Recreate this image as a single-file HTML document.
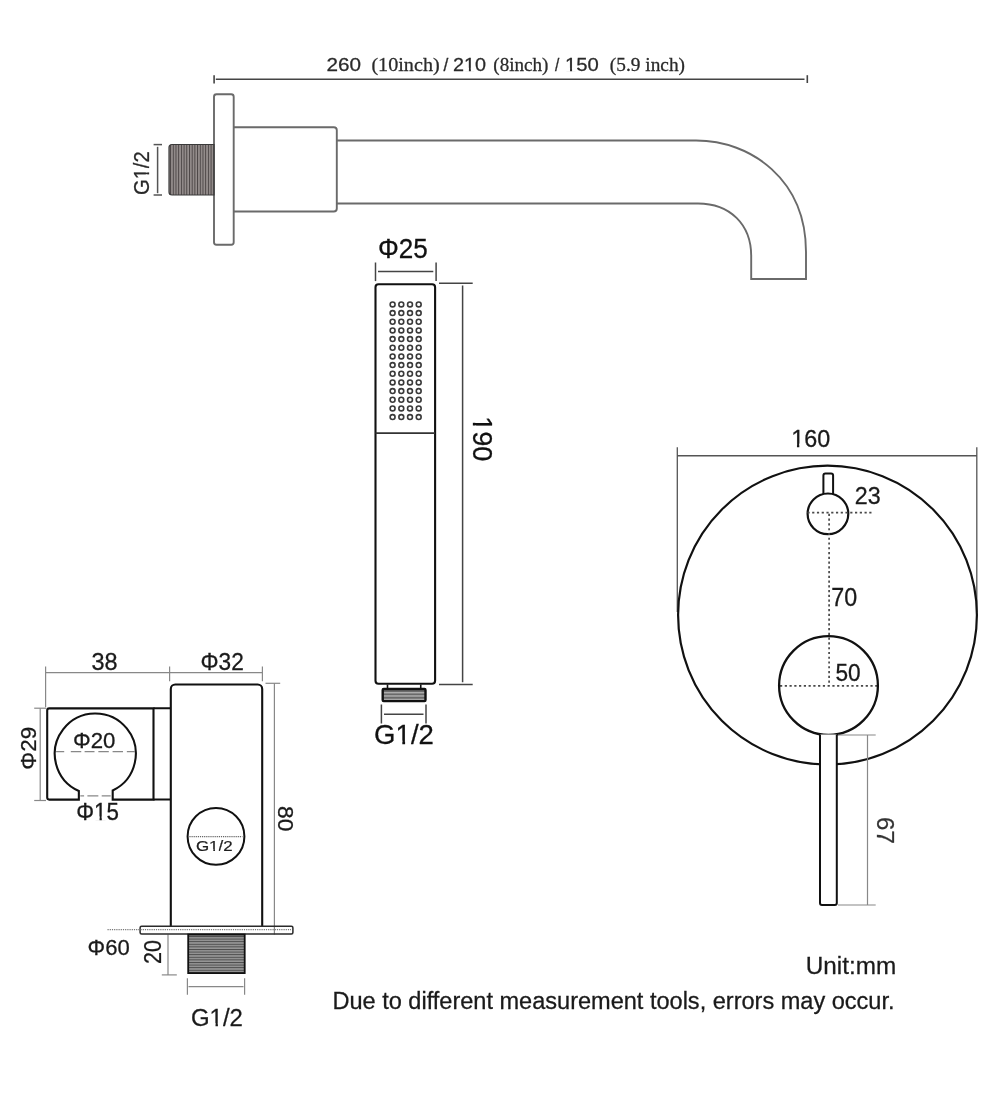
<!DOCTYPE html>
<html><head><meta charset="utf-8">
<style>
html,body{margin:0;padding:0;background:#fff;}
body{width:1000px;height:1112px;overflow:hidden;}
svg{display:block;will-change:transform;}
text{font-family:"Liberation Sans",sans-serif;}
</style></head>
<body>
<svg width="1000" height="1112" viewBox="0 0 1000 1112">
<defs>
<pattern id="vthr" x="0" y="0" width="2.7" height="10" patternUnits="userSpaceOnUse">
<rect width="2.7" height="10" fill="#7d7675"/><rect x="0" width="0.9" height="10" fill="#4a4444"/><rect x="1.5" width="0.7" height="10" fill="#b2abab"/>
</pattern>
<pattern id="hthr" x="0" y="0" width="10" height="2.6" patternUnits="userSpaceOnUse">
<rect width="10" height="2.6" fill="#808080"/><rect width="10" height="0.9" fill="#4a4a4a"/><rect y="1.5" width="10" height="0.6" fill="#b5b5b5"/>
</pattern>
<pattern id="hthr2" x="0" y="0" width="10" height="3.4" patternUnits="userSpaceOnUse">
<rect width="10" height="3.4" fill="#6a6a6a"/><rect y="2" width="10" height="0.9" fill="#d8d8d8"/>
</pattern>
</defs>

<!-- TOP DIMENSION -->
<g fill="none" stroke="#444" stroke-width="1.6">
<line x1="215.8" y1="79.3" x2="804.5" y2="79.3"/>
<line x1="214.1" y1="75.2" x2="214.1" y2="83.4"/>
<line x1="807.3" y1="75.2" x2="807.3" y2="83"/>
</g>

<!-- SPOUT -->
<g fill="none" stroke="#6a6a6a" stroke-width="1.9">
<rect x="214" y="94.2" width="19.7" height="150.6" rx="2.5"/>
<path d="M233.7,127.3 H333.8 a3,3 0 0 1 3,3 V208.5 a3,3 0 0 1 -3,3 H233.7"/>
<path d="M336.8,140.5 H696 C751,140.5 806,179.6 806,252 V279 H751.2 V256 C751.2,224.5 729.9,203.5 698,203.5 H336.8"/>
</g>
<path d="M214,144.5 H172 a3,3 0 0 0 -3,3 V192 a3,3 0 0 0 3,3 H214 Z" fill="url(#vthr)" stroke="#3a3a3a" stroke-width="1.2"/>
<g fill="none" stroke="#555" stroke-width="1.5">
<line x1="157.6" y1="146.8" x2="157.6" y2="193.2"/>
<line x1="153.6" y1="144.6" x2="162" y2="144.6"/>
<line x1="153.6" y1="195" x2="162" y2="195"/>
</g>

<!-- HAND SHOWER -->
<rect x="375.5" y="284.25" width="59.6" height="399.45" rx="3" fill="none" stroke="#111" stroke-width="2.1"/>
<line x1="375.5" y1="433.2" x2="435.1" y2="433.2" stroke="#333" stroke-width="1.7"/>
<g fill="none" stroke="#3a3a3a" stroke-width="1.6"><circle cx="392.6" cy="304.40" r="2.45"/><circle cx="401.3" cy="304.40" r="2.45"/><circle cx="410.0" cy="304.40" r="2.45"/><circle cx="418.7" cy="304.40" r="2.45"/><circle cx="392.6" cy="313.07" r="2.45"/><circle cx="401.3" cy="313.07" r="2.45"/><circle cx="410.0" cy="313.07" r="2.45"/><circle cx="418.7" cy="313.07" r="2.45"/><circle cx="392.6" cy="321.74" r="2.45"/><circle cx="401.3" cy="321.74" r="2.45"/><circle cx="410.0" cy="321.74" r="2.45"/><circle cx="418.7" cy="321.74" r="2.45"/><circle cx="392.6" cy="330.41" r="2.45"/><circle cx="401.3" cy="330.41" r="2.45"/><circle cx="410.0" cy="330.41" r="2.45"/><circle cx="418.7" cy="330.41" r="2.45"/><circle cx="392.6" cy="339.08" r="2.45"/><circle cx="401.3" cy="339.08" r="2.45"/><circle cx="410.0" cy="339.08" r="2.45"/><circle cx="418.7" cy="339.08" r="2.45"/><circle cx="392.6" cy="347.75" r="2.45"/><circle cx="401.3" cy="347.75" r="2.45"/><circle cx="410.0" cy="347.75" r="2.45"/><circle cx="418.7" cy="347.75" r="2.45"/><circle cx="392.6" cy="356.42" r="2.45"/><circle cx="401.3" cy="356.42" r="2.45"/><circle cx="410.0" cy="356.42" r="2.45"/><circle cx="418.7" cy="356.42" r="2.45"/><circle cx="392.6" cy="365.09" r="2.45"/><circle cx="401.3" cy="365.09" r="2.45"/><circle cx="410.0" cy="365.09" r="2.45"/><circle cx="418.7" cy="365.09" r="2.45"/><circle cx="392.6" cy="373.76" r="2.45"/><circle cx="401.3" cy="373.76" r="2.45"/><circle cx="410.0" cy="373.76" r="2.45"/><circle cx="418.7" cy="373.76" r="2.45"/><circle cx="392.6" cy="382.43" r="2.45"/><circle cx="401.3" cy="382.43" r="2.45"/><circle cx="410.0" cy="382.43" r="2.45"/><circle cx="418.7" cy="382.43" r="2.45"/><circle cx="392.6" cy="391.10" r="2.45"/><circle cx="401.3" cy="391.10" r="2.45"/><circle cx="410.0" cy="391.10" r="2.45"/><circle cx="418.7" cy="391.10" r="2.45"/><circle cx="392.6" cy="399.77" r="2.45"/><circle cx="401.3" cy="399.77" r="2.45"/><circle cx="410.0" cy="399.77" r="2.45"/><circle cx="418.7" cy="399.77" r="2.45"/><circle cx="392.6" cy="408.44" r="2.45"/><circle cx="401.3" cy="408.44" r="2.45"/><circle cx="410.0" cy="408.44" r="2.45"/><circle cx="418.7" cy="408.44" r="2.45"/><circle cx="392.6" cy="417.11" r="2.45"/><circle cx="401.3" cy="417.11" r="2.45"/><circle cx="410.0" cy="417.11" r="2.45"/><circle cx="418.7" cy="417.11" r="2.45"/></g>
<line x1="387.5" y1="684.5" x2="387.5" y2="688.5" stroke="#111" stroke-width="1.6"/>
<line x1="420.75" y1="684.5" x2="420.75" y2="688.5" stroke="#111" stroke-width="1.6"/>
<rect x="382.7" y="689" width="42.8" height="12.1" rx="1" fill="url(#hthr2)" stroke="#111" stroke-width="2.4"/>
<g fill="none" stroke="#444" stroke-width="1.5">
<line x1="375.5" y1="262.5" x2="375.5" y2="281.1"/>
<line x1="436.1" y1="262.5" x2="436.1" y2="281.1"/>
<line x1="378" y1="271.6" x2="433.3" y2="271.6"/>
<line x1="439" y1="283.3" x2="472.7" y2="283.3"/>
<line x1="439" y1="684.5" x2="472.7" y2="684.5"/>
<line x1="462.6" y1="285.5" x2="462.6" y2="682.2"/>
<line x1="381.4" y1="704.5" x2="381.4" y2="723.5"/>
<line x1="426" y1="704.5" x2="426" y2="723.5"/>
<line x1="384" y1="714.2" x2="423.5" y2="714.2"/>
</g>

<!-- DIVERTER -->
<g fill="none" stroke="#555" stroke-width="1.3">
<line x1="677" y1="455.75" x2="977" y2="455.75"/>
<line x1="677.3" y1="447.2" x2="677.3" y2="612"/>
<line x1="976.8" y1="447.2" x2="976.8" y2="612"/>
</g>
<circle cx="827.5" cy="615.1" r="149.4" fill="none" stroke="#111" stroke-width="2.2"/>
<path d="M823.4,495 V475.6 a2,2 0 0 1 2,-2 H831.1 a2,2 0 0 1 2,2 V495" fill="#fff" stroke="#111" stroke-width="2"/>
<circle cx="827.95" cy="513.85" r="20.35" fill="#fff" stroke="#111" stroke-width="2.2"/>
<g fill="none" stroke="#484848" stroke-width="1.7" stroke-dasharray="2.2 2.56">
<line x1="807.4" y1="512.6" x2="874" y2="512.6"/>
<line x1="829.1" y1="513.85" x2="829.1" y2="685.5"/>
<line x1="780" y1="685.8" x2="877.5" y2="685.8"/>
</g>
<circle cx="828.5" cy="685.5" r="49.4" fill="none" stroke="#111" stroke-width="2.3"/>
<path d="M820,734.5 V903 a2,2 0 0 0 2,2 H834.8 a2,2 0 0 0 2,-2 V734.5" fill="#fff" stroke="#111" stroke-width="2"/>
<g fill="none" stroke="#888" stroke-width="1.2">
<line x1="838" y1="735" x2="875.7" y2="735"/>
<line x1="838" y1="905" x2="875.7" y2="905"/>
<line x1="867.5" y1="735" x2="867.5" y2="905"/>
</g>

<!-- BRACKET -->
<g fill="none" stroke="#888" stroke-width="1.2">
<line x1="45.6" y1="672.6" x2="262.4" y2="672.6"/>
<line x1="45.6" y1="666.4" x2="45.6" y2="707.2"/>
<line x1="169.6" y1="666.6" x2="169.6" y2="681.3"/>
<line x1="262.4" y1="666.6" x2="262.4" y2="681.3"/>
<line x1="40.2" y1="708.2" x2="40.2" y2="800.5"/>
<line x1="34.2" y1="708.2" x2="46" y2="708.2"/>
<line x1="34.2" y1="800.5" x2="46" y2="800.5"/>
<line x1="274.4" y1="683.3" x2="274.4" y2="934.5"/>
<line x1="265.5" y1="683.3" x2="280.2" y2="683.3"/>
<line x1="168" y1="934.5" x2="168" y2="974.9"/>
<line x1="161.8" y1="974.9" x2="176.8" y2="974.9"/>
<line x1="187.4" y1="978.2" x2="187.4" y2="994.7"/>
<line x1="244.6" y1="978.2" x2="244.6" y2="994.7"/>
<line x1="188.5" y1="986.6" x2="243.5" y2="986.6"/>
</g>
<path d="M49.2,708.4 H153.5 V799.6 H112.7 V790.5 A40.5,40.5 0 1 0 78.85,790.95 V799.6 H49.2 a2,2 0 0 1 -2,-2 V710.4 a2,2 0 0 1 2,-2 Z" fill="none" stroke="#111" stroke-width="2.1"/>
<path d="M153.5,708.2 H170.8 M153.5,799.5 H170.8" stroke="#111" stroke-width="2.1"/>
<path d="M170.8,926.2 V689 a4.5,4.5 0 0 1 4.5,-4.5 H257.7 a4.5,4.5 0 0 1 4.5,4.5 V926.2" fill="#fff" stroke="#111" stroke-width="2.1"/>
<path d="M56.1,751.7H64.2M70.8,751.7H81.25M84.6,751.7H94.5M98.35,751.7H108.8M112.6,751.7H123M126.85,751.7H134.9M80.3,795.8H84.1M87.4,795.8H98.35M101.7,795.8H110.7" fill="none" stroke="#888" stroke-width="1.3"/>
<circle cx="216" cy="836.4" r="28.4" fill="none" stroke="#111" stroke-width="2"/>
<line x1="189.4" y1="836.6" x2="242.4" y2="836.6" stroke="#666" stroke-width="1.2" stroke-dasharray="1.2 0.9"/>
<rect x="140.1" y="926.3" width="152.8" height="7.6" rx="1.5" fill="none" stroke="#2a2a2a" stroke-width="1.5"/>
<line x1="107.5" y1="929.7" x2="291" y2="929.7" stroke="#777" stroke-width="1.2" stroke-dasharray="1.2 1"/>
<rect x="188.2" y="934.5" width="56.5" height="38.6" fill="url(#hthr)" stroke="#111" stroke-width="1.8"/>

<text transform="translate(326.56,70.5) scale(1.0872,1)" font-size="19.05" style="font-family:'Liberation Sans',sans-serif;fill:#2a2a2a;stroke:#2a2a2a;stroke-width:0.26px">260</text>
<text transform="translate(371.41,70.5) scale(1.1087,1)" font-size="18.18" style="font-family:'Liberation Serif',serif;fill:#2a2a2a;stroke:#2a2a2a;stroke-width:0.25px">(10inch)</text>
<text transform="translate(443.5,70.5) scale(0.9070,1)" font-size="19.05" style="font-family:'Liberation Sans',sans-serif;fill:#2a2a2a;stroke:#2a2a2a;stroke-width:0.31px">/</text>
<text transform="translate(453,70.5) scale(1.0406,1)" font-size="19.05" style="font-family:'Liberation Sans',sans-serif;fill:#2a2a2a;stroke:#2a2a2a;stroke-width:0.27px">210</text>
<g transform="translate(453,70.5) scale(1.0406,1)" fill="#fff"><rect x="11.08" y="-2.72" width="4.19" height="4.02"/><rect x="17.18" y="-2.72" width="4.04" height="4.02"/></g>
<text transform="translate(493.36,70.5) scale(1.0590,1)" font-size="18.04" style="font-family:'Liberation Serif',serif;fill:#2a2a2a;stroke:#2a2a2a;stroke-width:0.26px">(8inch)</text>
<text transform="translate(555,70.5) scale(0.8125,1)" font-size="19.05" style="font-family:'Liberation Sans',sans-serif;fill:#2a2a2a;stroke:#2a2a2a;stroke-width:0.34px">/</text>
<text transform="translate(565.06,70.5) scale(1.0647,1)" font-size="19.05" style="font-family:'Liberation Sans',sans-serif;fill:#2a2a2a;stroke:#2a2a2a;stroke-width:0.26px">150</text>
<g transform="translate(565.06,70.5) scale(1.0647,1)" fill="#fff"><rect x="0.51" y="-2.72" width="4.17" height="4.02"/><rect x="6.58" y="-2.72" width="4.02" height="4.02"/></g>
<text transform="translate(609.85,70.5) scale(1.0555,1)" font-size="18.33" style="font-family:'Liberation Serif',serif;fill:#2a2a2a;stroke:#2a2a2a;stroke-width:0.27px">(5.9 inch)</text>
<text transform="translate(148.7,195.01) rotate(-90) scale(0.9493,1)" font-size="21.20" style="font-family:'Liberation Sans',sans-serif;fill:#2a2a2a;stroke:#2a2a2a;stroke-width:0.28px">G1/2</text>
<g transform="translate(148.7,195.01) rotate(-90) scale(0.9493,1)" fill="#fff"><rect x="17.05" y="-2.88" width="4.64" height="4.18"/><rect x="23.81" y="-2.88" width="4.48" height="4.18"/></g>
<text transform="translate(377.96,257.65) scale(0.9294,1)" font-size="28.07" style="font-family:'Liberation Sans',sans-serif;fill:#111;stroke:#111;stroke-width:0.30px">Φ25</text>
<text transform="translate(472.8,416.14) rotate(90) scale(0.9806,1)" font-size="27.64" style="font-family:'Liberation Sans',sans-serif;fill:#111;stroke:#111;stroke-width:0.28px">190</text>
<g transform="translate(472.8,416.14) rotate(90) scale(0.9806,1)" fill="#fff"><rect x="1.09" y="-3.36" width="5.70" height="4.66"/><rect x="9.56" y="-3.36" width="5.49" height="4.66"/></g>
<text transform="translate(374.11,744) scale(0.9872,1)" font-size="27.93" style="font-family:'Liberation Sans',sans-serif;fill:#111;stroke:#111;stroke-width:0.28px">G1/2</text>
<g transform="translate(374.11,744) scale(0.9872,1)" fill="#fff"><rect x="22.84" y="-3.39" width="5.74" height="4.69"/><rect x="31.38" y="-3.39" width="5.53" height="4.69"/></g>
<text transform="translate(791.22,446.7) scale(0.9713,1)" font-size="24.06" style="font-family:'Liberation Sans',sans-serif;fill:#1a1a1a;stroke:#1a1a1a;stroke-width:0.29px">160</text>
<g transform="translate(791.22,446.7) scale(0.9713,1)" fill="#fff"><rect x="0.80" y="-3.10" width="5.11" height="4.40"/><rect x="8.32" y="-3.10" width="4.92" height="4.40"/></g>
<text transform="translate(854.73,503.6) scale(0.9562,1)" font-size="24.35" style="font-family:'Liberation Sans',sans-serif;fill:#1a1a1a;stroke:#1a1a1a;stroke-width:0.29px">23</text>
<text transform="translate(831.21,606) scale(0.9345,1)" font-size="24.92" style="font-family:'Liberation Sans',sans-serif;fill:#1a1a1a;stroke:#1a1a1a;stroke-width:0.30px">70</text>
<text transform="translate(835.49,681) scale(0.9413,1)" font-size="24.06" style="font-family:'Liberation Sans',sans-serif;fill:#1a1a1a;stroke:#1a1a1a;stroke-width:0.30px">50</text>
<text transform="translate(877.1,816.97) rotate(90) scale(1.0400,1)" font-size="23.20" style="font-family:'Liberation Sans',sans-serif;fill:#333;stroke:#333;stroke-width:0.28px">67</text>
<text transform="translate(91.51,669.8) scale(0.9531,1)" font-size="24.63" style="font-family:'Liberation Sans',sans-serif;fill:#1a1a1a;stroke:#1a1a1a;stroke-width:0.29px">38</text>
<text transform="translate(200.5,670.1) scale(0.9429,1)" font-size="24.06" style="font-family:'Liberation Sans',sans-serif;fill:#1a1a1a;stroke:#1a1a1a;stroke-width:0.30px">Φ32</text>
<text transform="translate(72.93,748) scale(0.9695,1)" font-size="22.91" style="font-family:'Liberation Sans',sans-serif;fill:#1a1a1a;stroke:#1a1a1a;stroke-width:0.29px">Φ20</text>
<text transform="translate(76.22,819.5) scale(0.9158,1)" font-size="24.42" style="font-family:'Liberation Sans',sans-serif;fill:#1a1a1a;stroke:#1a1a1a;stroke-width:0.31px">Φ15</text>
<g transform="translate(76.22,819.5) scale(0.9158,1)" fill="#fff"><rect x="20.25" y="-3.12" width="5.23" height="4.42"/><rect x="27.92" y="-3.12" width="5.04" height="4.42"/></g>
<text transform="translate(36.2,769.68) rotate(-90) scale(1.0236,1)" font-size="21.91" style="font-family:'Liberation Sans',sans-serif;fill:#1a1a1a;stroke:#1a1a1a;stroke-width:0.28px">Φ29</text>
<text transform="translate(277.8,806.01) rotate(90) scale(0.9916,1)" font-size="22.91" style="font-family:'Liberation Sans',sans-serif;fill:#1a1a1a;stroke:#1a1a1a;stroke-width:0.28px">80</text>
<text transform="translate(195.95,851.4) scale(1.1589,1)" font-size="14.61" style="font-family:'Liberation Sans',sans-serif;fill:#1e1e1e;stroke:#1e1e1e;stroke-width:0.24px">G1/2</text>
<g transform="translate(195.95,851.4) scale(1.1589,1)" fill="#fff"><rect x="11.61" y="-2.39" width="3.34" height="3.69"/><rect x="16.41" y="-2.39" width="3.22" height="3.69"/></g>
<text transform="translate(87.54,955.1) scale(0.9998,1)" font-size="22.06" style="font-family:'Liberation Sans',sans-serif;fill:#1a1a1a;stroke:#1a1a1a;stroke-width:0.28px">Φ60</text>
<text transform="translate(161.4,963.88) rotate(-90) scale(0.9101,1)" font-size="23.63" style="font-family:'Liberation Sans',sans-serif;fill:#1a1a1a;stroke:#1a1a1a;stroke-width:0.28px">20</text>
<text transform="translate(191,1026.2) scale(1.0384,1)" font-size="23.06" style="font-family:'Liberation Sans',sans-serif;fill:#1a1a1a;stroke:#1a1a1a;stroke-width:0.27px">G1/2</text>
<g transform="translate(191,1026.2) scale(1.0384,1)" fill="#fff"><rect x="18.73" y="-3.02" width="4.87" height="4.32"/><rect x="25.91" y="-3.02" width="4.69" height="4.32"/></g>
<text transform="translate(805.72,974) scale(0.9966,1)" font-size="24.42" style="font-family:'Liberation Sans',sans-serif;fill:#1a1a1a;stroke:#1a1a1a;stroke-width:0.28px">Unit:mm</text>
<text transform="translate(332.47,1008.5) scale(0.9821,1)" font-size="23.98" style="font-family:'Liberation Sans',sans-serif;fill:#1a1a1a;stroke:#1a1a1a;stroke-width:0.29px">Due to different measurement tools, errors may occur.</text>
</svg>

</body></html>
